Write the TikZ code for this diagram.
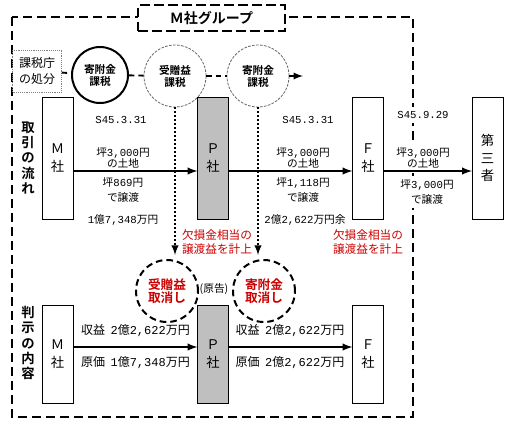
\documentclass[tikz,border=0pt]{standalone}
\usepackage{fontspec}
\setmainfont{Noto Sans CJK JP}[BoldFont={Noto Sans CJK JP Bold}]
\setmonofont{Liberation Mono}
\usepackage{xcolor}
\usetikzlibrary{positioning,arrows,calc,shapes.geometric}
\definecolor{kred}{RGB}{204,0,0}
\newcommand\hn[1]{{\ttfamily #1}}
\tikzset{
>=latex,
  kbox/.style={
    rectangle,
    draw=black, thin,
    minimum width=23pt,
    minimum height=91.5pt,
    inner sep=0pt,
    align=center,
    font=\fontsize{10}{13}\selectfont},
  pbox/.style={kbox, fill=black!25},
  lowbox/.style={minimum height=73.5pt},
  flow/.style={draw, line width=1.5pt, ->},
  grp/.style={draw, line width=1.5pt, dash pattern=on 7pt off 3.5pt},
  link/.style={draw, line width=1.4pt, dash pattern=on 4pt off 3pt},
  hint/.style={draw, line width=1.5pt, dash pattern=on 1.5pt off 1.5pt, ->, shorten >=3pt},
  taxc/.style={
    circle,
    draw=black!60, line width=0.6pt,
    dash pattern=on 2pt off 1pt,
    minimum size=46.5pt,
    inner sep=0pt,
    align=center,
    font=\bfseries\fontsize{8}{9}\selectfont},
  undo/.style={
    circle,
    draw=black, line width=1.5pt,
    dash pattern=on 5pt off 3pt,
    minimum size=46.5pt,
    inner sep=0pt,
    align=center,
    text=kred,
    font=\bfseries\fontsize{9.5}{10}\selectfont},
  lbl/.style={inner sep=1pt, align=center, font=\fontsize{8}{8.25}\selectfont},
  wide/.style={lbl, font=\fontsize{8}{11.25}\selectfont},
  sum/.style={lbl, font=\fontsize{9}{10}\selectfont},
  note/.style={inner sep=1pt, align=left, text=kred, font=\fontsize{8.75}{10.5}\selectfont},
  side/.style={inner sep=0pt, align=center, font=\bfseries\fontsize{10}{11.5}\selectfont}
}

\begin{document}
\begin{tikzpicture}[x=0.75pt,y=-0.75pt]
    \useasboundingbox (0,0) rectangle (509,430);
    \coordinate (row1) at (0,171);
    \coordinate (row2) at (0,347);

    % group frame
    \draw[grp] (12,17) rectangle (413,417);
    \node[grp, fill=white, minimum width=110pt, minimum height=19.5pt,
          font=\bfseries\fontsize{10.5}{12}\selectfont] (grp) at (211.5,18) {Ｍ社グループ};

    % tax office chain
    \node[draw=black!50, densely dotted, minimum width=36.75pt, minimum height=31.5pt,
          align=center, inner sep=0pt, font=\fontsize{9}{12}\selectfont] (K) at (37,71) {課税庁\\の処分};
    \node[circle, draw, line width=1.5pt, minimum size=42pt, inner sep=0pt, align=center,
          font=\bfseries\fontsize{8}{9}\selectfont] (C1) at (100,75) {寄附金\\課税};
    \node[taxc] (C2) at (175,76) {受贈益\\課税};
    \node[taxc] (C3) at (258,76) {寄附金\\課税};
    \coordinate (A) at (303,76);
    \draw[link] (K) -- (C1);
    \draw[link] (C1) -- (C2);
    \draw[link] (C2) -- (C3);
    \draw[link, ->] (C3) -- (A);

    % transactions
    \node[side] (S1) at (28,158) {取\\引\\の\\流\\れ};
    \node[kbox] (M1) at (57.5,158) {Ｍ\\社};
    \node[pbox] (P1) at (213,158) {Ｐ\\社};
    \node[kbox] (F1) at (368,158) {Ｆ\\社};
    \node[kbox] (T1) at (487.5,158) {第\\三\\者};

    \node[lbl] (d1) at (121,120) {\hn{S45.3.31}};
    \node[lbl] (a1) at (123,157.5) {坪\hn{3,000}円\\の土地};
    \node[wide] (b1) at (123,189.5) {坪\hn{869}円\\で譲渡};
    \node[lbl] (v1) at (123,220) {\hn{1}億\hn{7,348}万円};

    \node[lbl] (d2) at (308,120) {\hn{S45.3.31}};
    \node[lbl] (a2) at (303,157.5) {坪\hn{3,000}円\\の土地};
    \node[wide] (b2) at (303,189.5) {坪\hn{1,118}円\\で譲渡};
    \node[lbl] (v2) at (305,220) {\hn{2}億\hn{2,622}万円余};

    \node[lbl, fill=white, inner sep=3pt] (d3) at (423,115) {\hn{S45.9.29}};
    \node[lbl, fill=white, inner sep=3pt] (a3) at (423,157.5) {坪\hn{3,000}円\\の土地};
    \node[wide, fill=white, inner sep=3pt] (b3) at (427,192) {坪\hn{3,000}円\\で譲渡};

    \draw[flow] (M1.east |- row1) -- (P1.west |- row1);
    \draw[flow] (P1.east |- row1) -- (F1.west |- row1);
    \draw[flow] (F1.east |- row1) -- (T1.west |- row1);

    % court findings
    \node[undo] (D1) at (167,291) {受贈益\\取消し};
    \node[undo] (D2) at (264,291) {寄附金\\取消し};
    \node[lbl] (pl) at (214,289) {(原告)};
    \node[note] (R1) at (217,242) {欠損金相当の\\譲渡益を計上};
    \node[note] (R2) at (368,242) {欠損金相当の\\譲渡益を計上};
    \draw[hint] (C2.south) -- (C2.south |- D1.north);
    \draw[hint] (C3.south) -- (C3.south |- D2.north);

    \node[side] (S2) at (28,343) {判\\示\\の\\内\\容};
    \node[kbox, lowbox] (M2) at (57.5,354) {Ｍ\\社};
    \node[pbox, lowbox] (P2) at (213,354) {Ｐ\\社};
    \node[kbox, lowbox] (F2) at (368,354) {Ｆ\\社};

    \node[sum] (e1) at (135.5,330) {収益\ \ \hn{2}億\hn{2,622}万円};
    \node[sum] (c1) at (135.5,363) {原価\ \ \hn{1}億\hn{7,348}万円};
    \node[sum] (e2) at (290,330) {収益\ \ \hn{2}億\hn{2,622}万円};
    \node[sum] (c2) at (290,363) {原価\ \ \hn{2}億\hn{2,622}万円};

    \draw[flow] (M2.east |- row2) -- (P2.west |- row2);
    \draw[flow] (P2.east |- row2) -- (F2.west |- row2);
\end{tikzpicture}
\end{document}
